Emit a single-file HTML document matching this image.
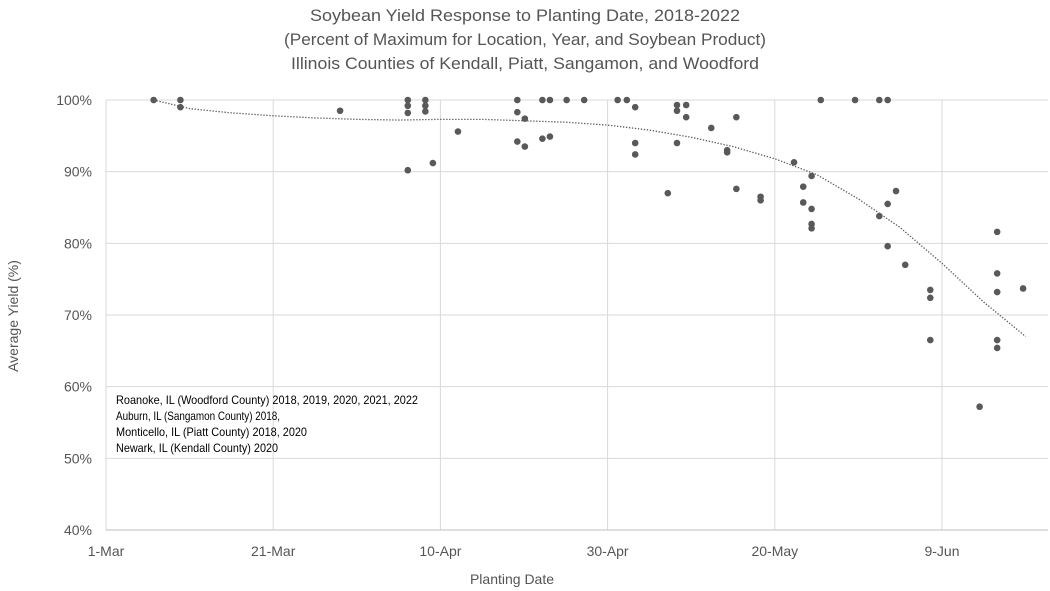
<!DOCTYPE html>
<html><head><meta charset="utf-8"><style>
body{margin:0;background:#fff;}
svg{display:block;font-family:"Liberation Sans Narrow","Liberation Sans",sans-serif;}
</style></head><body>
<svg id="chart" width="1050" height="591" viewBox="0 0 1050 591" xmlns="http://www.w3.org/2000/svg">
<g fill="#555" font-size="17" text-anchor="middle">
<text x="525" y="21" textLength="430" lengthAdjust="spacingAndGlyphs">Soybean Yield Response to Planting Date, 2018-2022</text>
<text x="525" y="45" textLength="482" lengthAdjust="spacingAndGlyphs">(Percent of Maximum for Location, Year, and Soybean Product)</text>
<text x="525" y="69" textLength="468" lengthAdjust="spacingAndGlyphs">Illinois Counties of Kendall, Piatt, Sangamon, and Woodford</text>
</g>
<g id="grid"></g>
<g id="axes"></g>
<g id="trend"></g>
<g id="points"></g>
<text x="0" y="0" transform="translate(18,316) rotate(-90)" text-anchor="middle" font-size="14" fill="#555">Average Yield (%)</text>
<text x="512" y="584" text-anchor="middle" font-size="14" fill="#555">Planting Date</text>
<g font-size="12" fill="#000">
<text x="116" y="404" textLength="302" lengthAdjust="spacingAndGlyphs">Roanoke, IL (Woodford County) 2018, 2019, 2020, 2021, 2022</text>
<text x="116" y="420" textLength="164" lengthAdjust="spacingAndGlyphs">Auburn, IL (Sangamon County) 2018,</text>
<text x="116" y="436" textLength="191" lengthAdjust="spacingAndGlyphs">Monticello, IL (Piatt County) 2018, 2020</text>
<text x="116" y="452" textLength="162" lengthAdjust="spacingAndGlyphs">Newark, IL (Kendall County) 2020</text>
</g>
</svg>
<script>
const xTickDays=[0,20,40,60,80,100];
const xTickLabels=["1-Mar","21-Mar","10-Apr","30-Apr","20-May","9-Jun"];
const yTicks=[40,50,60,70,80,90,100];
const pointDays=[5.7,8.9,8.9,28,36.1,36.1,36.1,36.1,38.2,38.2,38.2,39.1,42.1,49.2,49.2,49.2,50.1,50.1,52.2,52.2,53.1,53.1,55.1,57.2,61.2,62.3,63.3,63.3,63.3,67.2,68.3,68.3,68.3,69.4,69.4,72.4,74.3,74.3,75.4,75.4,78.3,78.3,82.3,83.4,83.4,84.4,84.4,84.4,84.4,85.5,89.6,92.5,92.5,93.5,93.5,93.5,94.5,95.6,98.6,98.6,98.6,104.5,106.6,106.6,106.6,106.6,106.6,109.7];
const pointYields=[100,100,99,98.5,100,99.2,98.2,90.2,100,99.2,98.4,91.2,95.6,100,98.3,94.2,97.4,93.5,94.6,100,100,94.9,100,100,100,100,99,94,92.4,87,99.3,98.5,94,99.3,97.6,96.1,93,92.7,97.6,87.6,86.5,86,91.3,87.9,85.7,89.4,84.8,82.7,82.1,100,100,100,83.8,100,85.5,79.6,87.3,77,73.5,72.4,66.5,57.2,81.6,75.8,73.2,66.5,65.4,73.7];
const trendDays=[5.7,10,15,20,25,30,35,40,45,50,55,60,65,70,75,80,85,90,95,100,105,110];
const trendYields=[100,98.8,98.2,97.8,97.5,97.3,97.2,97.3,97.3,97.1,96.9,96.5,95.8,94.8,93.5,91.8,89.6,86.2,82.2,77.2,71.8,67];
const L=106,R=1048,T=100,B=530;
const X=d=>L+d*8.36;
const Y=v=>B-(v-40)/60*(B-T);
const NS="http://www.w3.org/2000/svg";
function mk(tag,attrs,parent){const e=document.createElementNS(NS,tag);for(const k in attrs)e.setAttribute(k,attrs[k]);parent.appendChild(e);return e;}
const grid=document.getElementById('grid'),axes=document.getElementById('axes');
yTicks.forEach(v=>{
  const l=mk('line',{x1:L,x2:R,y1:Y(v),y2:Y(v),stroke:'#d9d9d9','stroke-width':1},grid);
  
  
  const t=mk('text',{x:92,y:Y(v)+5,'text-anchor':'end','font-size':14,fill:'#555'},axes);
  t.textContent=v+'%';
  
  
});
xTickDays.forEach((d,i)=>{
  const l=mk('line',{x1:X(d),x2:X(d),y1:T,y2:B,stroke:'#d9d9d9','stroke-width':1},grid);
  
  
  const t=mk('text',{x:X(d),y:556,'text-anchor':'middle','font-size':14,fill:'#555'},axes);
  t.textContent=xTickLabels[i];
  
  
});
const ax=mk('line',{x1:L,x2:R,y1:B,y2:B,stroke:'#bfbfbf','stroke-width':1},axes);


const tp=mk('polyline',{points:trendDays.map((d,i)=>X(d)+','+Y(trendYields[i])).join(' '),fill:'none',stroke:'#555','stroke-width':1.3,'stroke-dasharray':'1.3 1.7'},document.getElementById('trend'));


const pg=document.getElementById('points');
pointDays.forEach((d,i)=>{
  const c=mk('circle',{cx:X(d),cy:Y(pointYields[i]),r:3.3,fill:'#595959'},pg);
  
  
});
</script>
</body></html>
